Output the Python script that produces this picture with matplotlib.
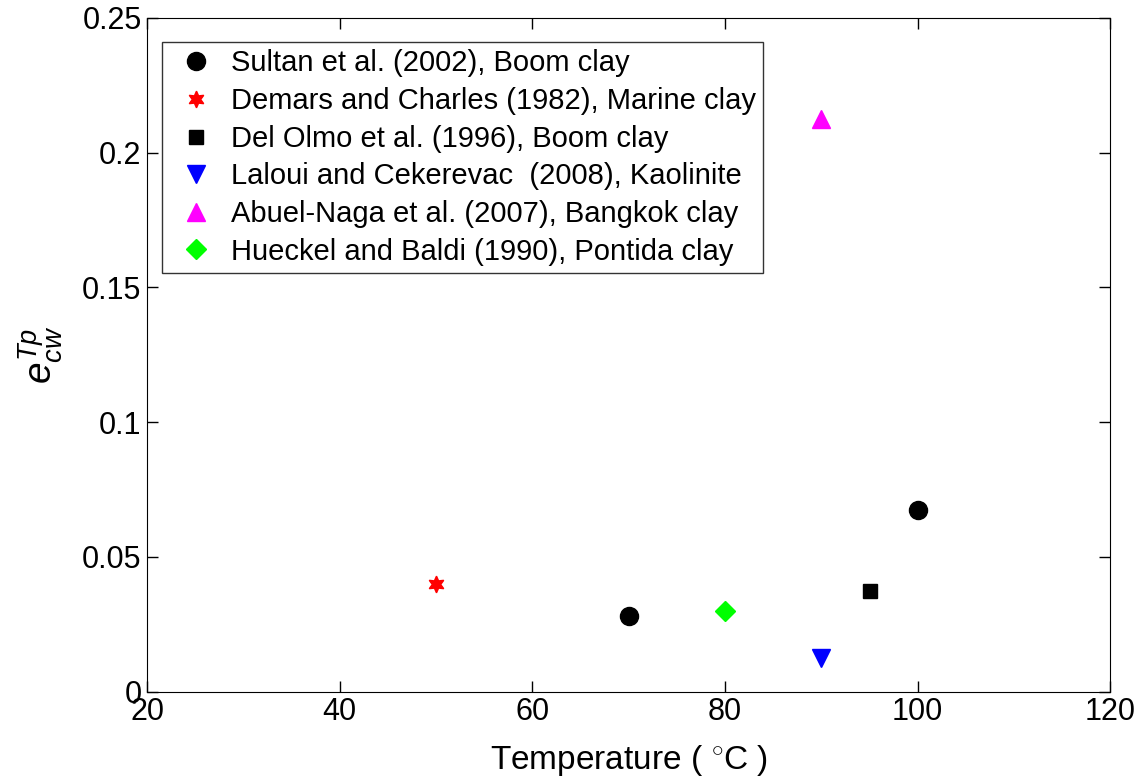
import matplotlib
matplotlib.use('Agg')
import matplotlib.pyplot as plt

# Данные (температура, e_cw^Tp)
sultan_t = [70, 100]
sultan_e = [0.028, 0.0675]
demars_t = [50]
demars_e = [0.040]
delolmo_t = [95]
delolmo_e = [0.0375]
laloui_t = [90]
laloui_e = [0.0125]
abuel_t = [90]
abuel_e = [0.2125]
hueckel_t = [80]
hueckel_e = [0.030]

plt.rcParams['font.family'] = ['Liberation Sans', 'DejaVu Sans']
plt.rcParams['mathtext.fontset'] = 'custom'
plt.rcParams['mathtext.rm'] = 'Liberation Sans'
plt.rcParams['mathtext.it'] = 'Liberation Sans:italic'

fig = plt.figure(figsize=(11.4, 7.79), dpi=100)
ax = fig.add_axes([0.129, 0.112, 0.845, 0.865])

ax.plot(sultan_t, sultan_e, 'o', color='black', ms=13, ls='none',
        label='Sultan et al. (2002), Boom clay')
ax.plot(demars_t, demars_e, marker=(6, 1, 0), color='red', ms=12, ls='none',
        label='Demars and Charles (1982), Marine clay')
ax.plot(delolmo_t, delolmo_e, 's', color='black', ms=10, ls='none',
        label='Del Olmo et al. (1996), Boom clay')
ax.plot(laloui_t, laloui_e, 'v', color='blue', ms=13, ls='none',
        label='Laloui and Cekerevac  (2008), Kaolinite')
ax.plot(abuel_t, abuel_e, '^', color='magenta', ms=13, ls='none',
        label='Abuel-Naga et al. (2007), Bangkok clay')
ax.plot(hueckel_t, hueckel_e, 'D', color='#00ff00', ms=10, ls='none',
        label='Hueckel and Baldi (1990), Pontida clay')

ax.set_xlim(20, 120)
ax.set_ylim(0, 0.25)
ax.set_xticks([20, 40, 60, 80, 100, 120])
ax.set_yticks([0, 0.05, 0.1, 0.15, 0.2, 0.25])
ax.set_yticklabels(['0', '0.05', '0.1', '0.15', '0.2', '0.25'])
ax.tick_params(direction='in', top=True, right=True, length=8, width=1,
               labelsize=22, pad=4)

ax.set_xlabel('Temperature ( $^{\\circ}$C )', fontsize=24, labelpad=11)
ax.set_ylabel('$e_{cw}^{Tp}$', fontsize=28, labelpad=12)

leg = ax.legend(loc='upper left', bbox_to_anchor=(0.0156, 0.964), fontsize=21,
                frameon=True, fancybox=False, edgecolor='black',
                handletextpad=0.3, labelspacing=0.33, borderpad=0.25,
                handlelength=1.8, numpoints=1, borderaxespad=0)
leg.get_frame().set_linewidth(1)

fig.savefig('out.png', dpi=100)
